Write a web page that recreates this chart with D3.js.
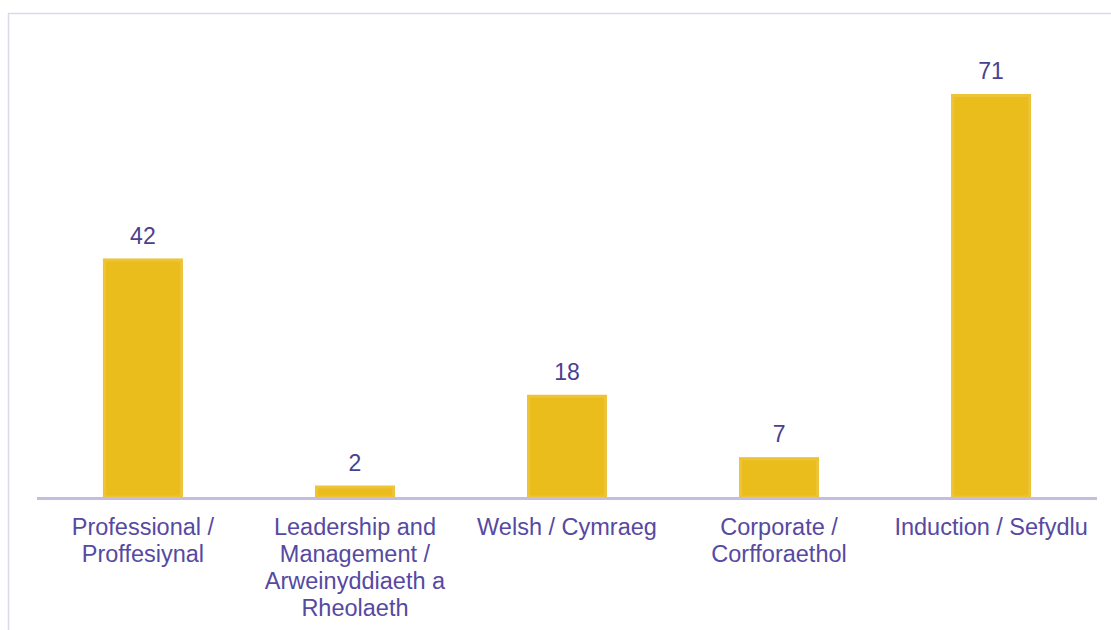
<!DOCTYPE html>
<html>
<head>
<meta charset="utf-8">
<script src="https://cdn.jsdelivr.net/npm/d3@7"></script>
<style>
  body { margin: 0; background: #fff; }
  svg { display: block; font-family: "Liberation Sans", Arial, sans-serif; }
</style>
</head>
<body>
<div id="chart"></div>
<script>
// data
const categories = ["Professional", "Leadership", "Welsh", "Corporate", "Induction"];
const counts = [42, 2, 18, 7, 71];
// tick labels, already broken into lines like the original
const tickLabels = [
  ["Professional /", "Proffesiynal"],
  ["Leadership and", "Management /", "Arweinyddiaeth a", "Rheolaeth"],
  ["Welsh / Cymraeg"],
  ["Corporate /", "Corfforaethol"],
  ["Induction / Sefydlu"]
];

const width = 1111;
const height = 630;
const margin = { top: 94, right: 14, bottom: 133, left: 37 };
const innerWidth = width - margin.left - margin.right;
const innerHeight = height - margin.top - margin.bottom;

const textColor = "#4b408f";
const barColor = "#ebbd1c";

const svg = d3.select("#chart")
  .append("svg")
  .attr("width", width)
  .attr("height", height);

// frame lines top + left
svg.append("line")
  .attr("x1", 8).attr("x2", width)
  .attr("y1", 13.5).attr("y2", 13.5)
  .attr("stroke", "#dcd9ec").attr("stroke-width", 1.5);
svg.append("line")
  .attr("x1", 8.5).attr("x2", 8.5)
  .attr("y1", 13).attr("y2", height)
  .attr("stroke", "#dcd9ec").attr("stroke-width", 1.5);

const innerChart = svg.append("g")
  .attr("transform", `translate(${margin.left}, ${margin.top})`);

const xScale = d3.scaleBand()
  .domain(categories)
  .range([0, innerWidth])
  .paddingInner(0.623)
  .paddingOuter(0.311);

const yScale = d3.scaleLinear()
  .domain([0, 71])
  .range([innerHeight, 0]);

const data = categories.map((c, i) => ({ cat: c, value: counts[i], label: tickLabels[i] }));

// bars
innerChart.selectAll(".bar")
  .data(data)
  .join("rect")
  .attr("class", "bar")
  .attr("x", d => xScale(d.cat))
  .attr("y", d => yScale(d.value))
  .attr("width", xScale.bandwidth())
  .attr("height", d => innerHeight - yScale(d.value))
  .attr("fill", barColor);

// soft lighter rim like the original
innerChart.selectAll(".rim")
  .data(data)
  .join("rect")
  .attr("class", "rim")
  .attr("x", d => xScale(d.cat) + 1.5)
  .attr("y", d => yScale(d.value) + 1.5)
  .attr("width", xScale.bandwidth() - 3)
  .attr("height", d => Math.max(0, innerHeight - yScale(d.value) - 1.5))
  .attr("fill", "none")
  .attr("stroke", "#eec84a")
  .attr("stroke-opacity", 0.6)
  .attr("stroke-width", 3);

// value labels
innerChart.selectAll(".value")
  .data(data)
  .join("text")
  .attr("class", "value")
  .attr("x", d => xScale(d.cat) + xScale.bandwidth() / 2)
  .attr("y", d => yScale(d.value) - 15)
  .attr("text-anchor", "middle")
  .attr("font-size", "23px")
  .attr("fill", textColor)
  .text(d => d.value);

// x axis line
innerChart.append("line")
  .attr("x1", 0).attr("x2", innerWidth)
  .attr("y1", innerHeight + 1.5).attr("y2", innerHeight + 1.5)
  .attr("stroke", "#c4bde0")
  .attr("stroke-width", 3);

// category labels
innerChart.selectAll(".cat-label")
  .data(data)
  .join("text")
  .attr("class", "cat-label")
  .attr("text-anchor", "middle")
  .attr("font-size", "23.5px")
  .attr("fill", "#5649a2")
  .each(function (d) {
    const t = d3.select(this);
    const cx = xScale(d.cat) + xScale.bandwidth() / 2;
    d.label.forEach((line, i) => {
      t.append("tspan")
        .attr("x", cx)
        .attr("y", innerHeight + 38 + i * 27)
        .text(line);
    });
  });
</script>
</body>
</html>
